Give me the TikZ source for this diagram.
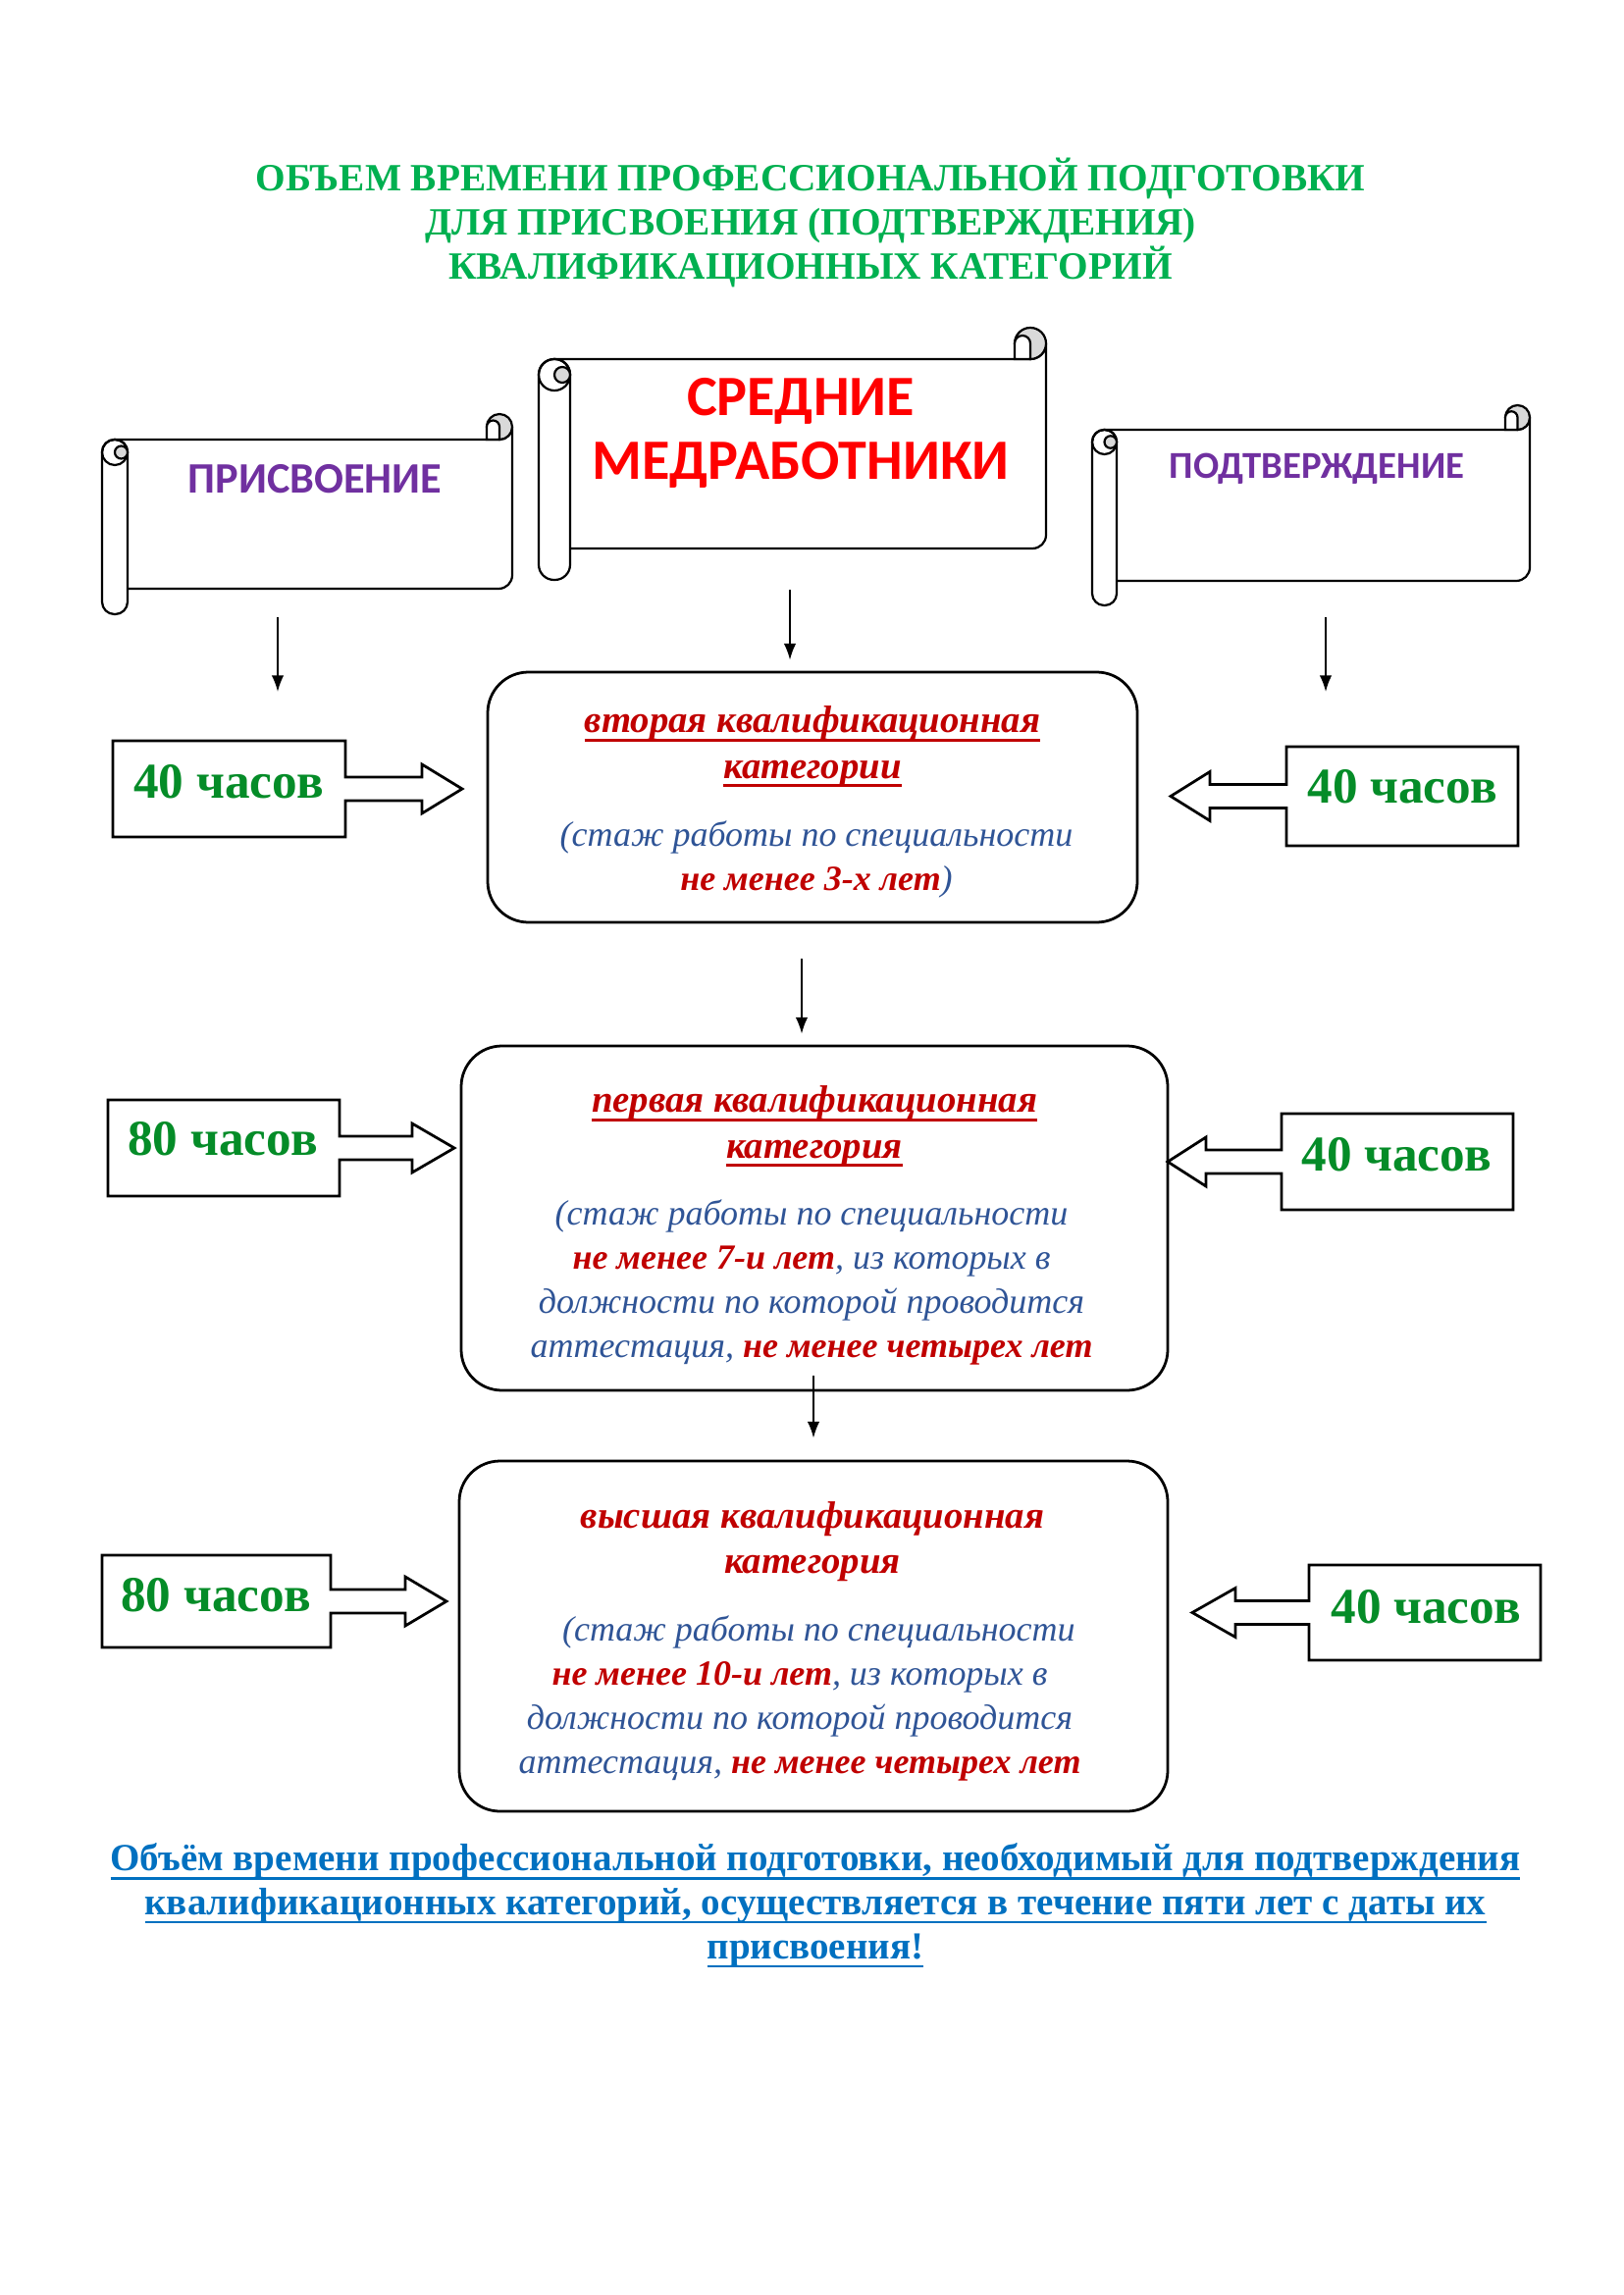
\documentclass[tikz,border=0pt]{standalone}
\usepackage{fontspec}
\setmainfont{Liberation Serif}
\newfontfamily\carlito{Carlito}
\usetikzlibrary{arrows.meta}

\definecolor{titlegreen}{HTML}{00B050}
\definecolor{hoursgreen}{RGB}{5,140,40}
\definecolor{scrollpurple}{HTML}{7030A0}
\definecolor{catred}{HTML}{C00000}
\definecolor{noteblue}{HTML}{2F5496}
\definecolor{footblue}{HTML}{0070C0}
\definecolor{curlgrey}{HTML}{D9D9D9}

\newsavebox{\ulbox}
\newcommand{\ulin}[1]{\sbox{\ulbox}{#1}\rlap{\usebox{\ulbox}}\rule[-3.2pt]{\wd\ulbox}{1pt}}

\begin{document}
\begin{tikzpicture}[x=0.0127cm, y=-0.0127cm,
    scrollline/.style={black, line width=0.8pt},
    catbox/.style={draw, line width=1pt, rounded corners=15pt, inner sep=0pt},
    hourbox/.style={draw, line width=1pt, fill=white},
    hours/.style={font=\fontsize{18.5}{22}\selectfont\bfseries, text=hoursgreen},
    arr/.style={-{Latex[length=6pt,width=4.5pt]}, line width=0.6pt},
    head/.style={align=center, font=\fontsize{14}{16.8}\selectfont\bfseries\itshape, text=catred},
    note/.style={align=center, font=\fontsize{13}{16.2}\selectfont\itshape, text=noteblue}]

    \path[use as bounding box] (0,0) rectangle (1654,2339);

    % Title
    \node[align=center, font=\fontsize{14.2}{16.2}\selectfont\bfseries, text=titlegreen] (title) at (826,227)
        {ОБЪЕМ ВРЕМЕНИ ПРОФЕССИОНАЛЬНОЙ ПОДГОТОВКИ\\ДЛЯ ПРИСВОЕНИЯ (ПОДТВЕРЖДЕНИЯ)\\КВАЛИФИКАЦИОННЫХ КАТЕГОРИЙ};

    % Scrolls
    \foreach \xa/\ya/\xb/\yb/\rr in {104/422/522/626/26, 549/334/1066/591/32, 1113/413/1559/617/25}{
        \draw[scrollline, fill=white] ({\xa+\rr/2},{\ya+\rr}) -- ({\xb-\rr/2},{\ya+\rr})
            arc[start angle=90, end angle=0, radius=\rr/2]
            [rounded corners=5pt] -- (\xb,{\yb-\rr}) -- ({\xa+\rr/2},{\yb-\rr}) [sharp corners] -- cycle;
        \draw[scrollline, fill=curlgrey] ({\xb-\rr/2},{\ya+\rr/2}) circle[radius=\rr/2];
        \draw[scrollline, fill=white] ({\xb-\rr},{\ya+\rr}) -- ({\xb-\rr},{\ya+\rr/2})
            arc[start angle=180, end angle=360, radius=\rr/4] -- ({\xb-\rr/2},{\ya+\rr}) -- cycle;
        \draw[scrollline, fill=white, rounded corners={0.175pt*\rr}] (\xa,{\ya+\rr}) rectangle ({\xa+\rr},\yb);
        \draw[scrollline] ({\xa+\rr/2},{\ya+1.5*\rr}) circle[radius=\rr/2];
        \draw[scrollline, fill=curlgrey] ({\xa+0.75*\rr},{\ya+1.5*\rr}) circle[radius=\rr/4];
    }
    \node[font=\carlito\bfseries\fontsize{16}{19}\selectfont, text=scrollpurple] (prisv) at (321,488) {ПРИСВОЕНИЕ};
    \node[font=\carlito\bfseries\fontsize{21}{23.5}\selectfont, text=red, align=center] (sredn) at (816,441) {СРЕДНИЕ\\МЕДРАБОТНИКИ};
    \node[font=\carlito\bfseries\fontsize{14}{17}\selectfont, text=scrollpurple] (podtv) at (1342,478) {ПОДТВЕРЖДЕНИЕ};

    % Category boxes
    \node[catbox, minimum width=662*0.0127cm, minimum height=255*0.0127cm] (vtoraya) at (828,812.5) {};
    \node[catbox, minimum width=720*0.0127cm, minimum height=351*0.0127cm] (pervaya) at (830,1241.5) {};
    \node[catbox, minimum width=722*0.0127cm, minimum height=357*0.0127cm] (vysshaya) at (829,1667.5) {};

    \node[head] (vtorayaH) at (828,761) {\ulin{вторая квалификационная}\\\ulin{категории}};
    \node[note] (vtorayaN) at (832,876) {(стаж работы по специальности\\\textcolor{catred}{\bfseries не менее 3-х лет})};

    \node[head] (pervayaH) at (830,1148) {\ulin{первая квалификационная}\\\ulin{категория}};
    \node[note] (pervayaN) at (827,1307) {(стаж работы по специальности\\\textcolor{catred}{\bfseries не менее 7-и лет}, из которых в\\должности по которой проводится\\аттестация, \textcolor{catred}{\bfseries не менее четырех лет}};

    \node[head] (vysshayaH) at (828,1571) {высшая квалификационная\\категория};
    \node[note] (vysshayaN) at (815,1731) {\hspace*{14pt}(стаж работы по специальности\\\textcolor{catred}{\bfseries не менее 10-и лет}, из которых в\\должности по которой проводится\\аттестация, \textcolor{catred}{\bfseries не менее четырех лет}};

    % Hour boxes, arrow to the right
    \foreach \xa/\ya/\xb/\yb/\xs/\xt in {115/755/352/853/430/471, 110/1121/346/1219/420/463, 104/1585/337/1679/413/455}{
        \pgfmathsetmacro{\yc}{(\ya+\yb)/2}
        \draw[hourbox] (\xa,\ya) -- (\xb,\ya) -- (\xb,\yc-12) -- (\xs,\yc-12) -- (\xs,\yc-25) -- (\xt,\yc)
            -- (\xs,\yc+25) -- (\xs,\yc+12) -- (\xb,\yc+12) -- (\xb,\yb) -- (\xa,\yb) -- cycle;
    }
    % Hour boxes, arrow to the left
    \foreach \xa/\ya/\xb/\yb/\xs/\xt in {1311/761/1547/862/1233/1193, 1306/1135/1542/1233/1229/1190, 1334/1595/1570/1692/1259/1215}{
        \pgfmathsetmacro{\yc}{(\ya+\yb)/2}
        \draw[hourbox] (\xa,\ya) -- (\xb,\ya) -- (\xb,\yb) -- (\xa,\yb) -- (\xa,\yc+12) -- (\xs,\yc+12)
            -- (\xs,\yc+25) -- (\xt,\yc) -- (\xs,\yc-25) -- (\xs,\yc-12) -- (\xa,\yc-12) -- cycle;
    }
    \node[hours] (left40) at (233,797) {40 часов};
    \node[hours] (left80a) at (227,1161) {80 часов};
    \node[hours] (left80b) at (220,1626) {80 часов};
    \node[hours] (right40a) at (1429,802) {40 часов};
    \node[hours] (right40b) at (1423,1177) {40 часов};
    \node[hours] (right40c) at (1453,1638) {40 часов};

    % Down arrows
    \coordinate (a1s) at (283,629);
    \coordinate (a1e) at (283,705);
    \coordinate (a2s) at (805,601);
    \coordinate (a3s) at (1351,629);
    \coordinate (a3e) at (1351,705);
    \coordinate (a4s) at (817,977);
    \coordinate (a5s) at (829,1402);
    \draw[arr] (a1s) -- (a1e);
    \draw[arr, shorten >=4pt] (a2s) -- (a2s |- vtoraya.north);
    \draw[arr] (a3s) -- (a3e);
    \draw[arr, shorten >=4pt] (a4s) -- (a4s |- pervaya.north);
    \draw[arr, shorten >=8pt] (a5s) -- (a5s |- vysshaya.north);

    % Footnote
    \node[align=center, font=\fontsize{14.1}{16.2}\selectfont\bfseries, text=footblue] (foot) at (831,1942)
        {\ulin{Объём времени профессиональной подготовки, необходимый для подтверждения}\\
         \ulin{квалификационных категорий, осуществляется в течение пяти лет с даты их}\\
         \ulin{присвоения!}};
\end{tikzpicture}
\end{document}
